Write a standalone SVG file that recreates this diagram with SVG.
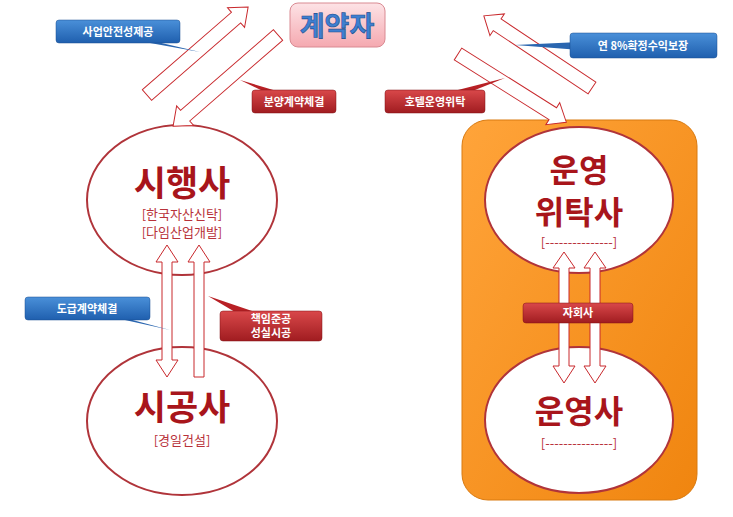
<svg xmlns="http://www.w3.org/2000/svg" width="733" height="517" viewBox="0 0 733 517">
<defs>
<linearGradient id="pink" x1="0" y1="0" x2="0" y2="1"><stop offset="0" stop-color="#fde3e6"/><stop offset="1" stop-color="#f5a9b0"/></linearGradient>
<linearGradient id="blue" x1="0" y1="0" x2="0" y2="1"><stop offset="0" stop-color="#4a90d9"/><stop offset="1" stop-color="#1f5fae"/></linearGradient>
<linearGradient id="red" x1="0" y1="0" x2="0" y2="1"><stop offset="0" stop-color="#d9484a"/><stop offset="1" stop-color="#a01c20"/></linearGradient>
<linearGradient id="orange" x1="0" y1="0" x2="1" y2="1"><stop offset="0" stop-color="#ffa43a"/><stop offset="1" stop-color="#f0850f"/></linearGradient>
</defs>
<style>
.ell{fill:#fff;stroke:#b0343a;stroke-width:2}
.arr{fill:#fff;stroke:#c8282c;stroke-width:1}
.big{font-family:"Noto Sans CJK KR",sans-serif;font-weight:bold;fill:#a8151b;text-anchor:middle}
.sub{font-family:"Noto Sans CJK KR",sans-serif;fill:#b8323a;text-anchor:middle;font-size:13px}
.lbl{font-family:"Noto Sans CJK KR",sans-serif;font-weight:bold;fill:#fff;text-anchor:middle;font-size:11px}
.bb{fill:url(#blue);stroke:#1a4f90;stroke-width:0.5}
.rb{fill:url(#red);stroke:#801015;stroke-width:0.5}
.bp{fill:#2a66b0}
.rp{fill:#b82025}
</style>
<rect x="462" y="120" width="235" height="380" rx="26" fill="url(#orange)" stroke="#d97a10"/>
<g id="top"><rect x="290" y="3" width="95" height="44" rx="8" fill="url(#pink)" stroke="#d98a92"/>
<text x="337" y="36" style="font-family:'Noto Sans CJK KR',sans-serif;font-weight:bold;font-size:27px;fill:#3f7fd0;stroke:#1d4e90;stroke-width:0.6;text-anchor:middle">계약자</text></g>
<g id="n1"><ellipse class="ell" cx="182" cy="200" rx="95" ry="75"/>
<text class="big" x="182" y="196" font-size="35">시행사</text>
<text class="sub" x="182" y="219">[한국자산신탁]</text><text class="sub" x="182" y="237">[다임산업개발]</text></g>
<g id="n2"><ellipse class="ell" cx="182" cy="421" rx="95" ry="74"/>
<text class="big" x="182" y="420" font-size="35">시공사</text>
<text class="sub" x="182" y="445">[경일건설]</text></g>
<g id="n3"><ellipse class="ell" cx="579" cy="200" rx="94" ry="73"/>
<text class="big" x="579" y="182" font-size="32">운영</text>
<text class="big" x="579" y="224" font-size="32">위탁사</text>
<text class="sub" x="579" y="247">[---------------]</text></g>
<g id="n4"><ellipse class="ell" cx="579" cy="420" rx="94" ry="73"/>
<text class="big" x="579" y="423" font-size="32">운영사</text>
<text class="sub" x="579" y="448">[---------------]</text></g>
<g id="connectors">
<path class="arr" transform="translate(147,95) rotate(-41)" d="M0,-7 L118,-7 L118,-13 L134,0 L118,13 L118,7 L0,7 Z"/>
<path class="arr" transform="translate(278,35) rotate(139)" d="M0,-7 L123,-7 L123,-13 L139,0 L123,13 L123,7 L0,7 Z"/>
<path class="arr" transform="translate(592,88) rotate(213.7)" d="M0,-7 L114,-7 L114,-13 L130,0 L114,13 L114,7 L0,7 Z"/>
<path class="arr" transform="translate(458,54) rotate(32.2)" d="M0,-7 L112,-7 L112,-13 L128,0 L112,13 L112,7 L0,7 Z"/>
<path class="arr" d="M162,262 L156,262 L167,245 L178,262 L172,262 L172,360 L178,360 L167,377 L156,360 L162,360 Z"/>
<path class="arr" d="M194,377 L194,262 L188,262 L199,245 L210,262 L204,262 L204,377 Z"/>
<path class="arr" d="M559,268 L553,268 L564,252 L575,268 L569,268 L569,366 L575,366 L564,383 L553,366 L559,366 Z"/>
<path class="arr" d="M590,268 L584,268 L595,252 L606,268 L600,268 L600,366 L606,366 L595,383 L584,366 L590,366 Z"/>
</g>
<g id="c1"><path class="bp" d="M140,38 L200,52 L150,43 Z"/><rect class="bb" x="56" y="20" width="124" height="23" rx="3"/><text class="lbl" x="118" y="36">사업안전성제공</text></g>
<g id="c2"><path class="bp" d="M580,42 L515,45 L580,50 Z"/><rect class="bb" x="570" y="33" width="147" height="25" rx="3"/><text class="lbl" x="643" y="50">연 8%확정수익보장</text></g>
<g id="c3"><path class="rp" d="M265,92 L240,80 L280,92 Z"/><rect class="rb" x="252" y="90" width="84" height="23" rx="3"/><text class="lbl" x="294" y="106">분양계약체결</text></g>
<g id="c4"><path class="rp" d="M450,92 L505,78 L470,92 Z"/><rect class="rb" x="385" y="90" width="100" height="23" rx="3"/><text class="lbl" x="435" y="106">호텔운영위탁</text></g>
<g id="c5"><path class="bp" d="M110,314 L170,330 L125,320 Z"/><rect class="bb" x="25" y="297" width="125" height="23" rx="3"/><text class="lbl" x="87" y="313">도급계약체결</text></g>
<g id="c6"><path class="rp" d="M235,312 L208,296 L255,312 Z"/><rect class="rb" x="220" y="311" width="102" height="30" rx="3"/><text class="lbl" x="271" y="323" font-size="10">책임준공</text><text class="lbl" x="271" y="337" font-size="10">성실시공</text></g>
<g id="c7"><rect class="rb" x="523" y="303" width="110" height="20" rx="3"/><text class="lbl" x="578" y="317">자회사</text></g>
</svg>
